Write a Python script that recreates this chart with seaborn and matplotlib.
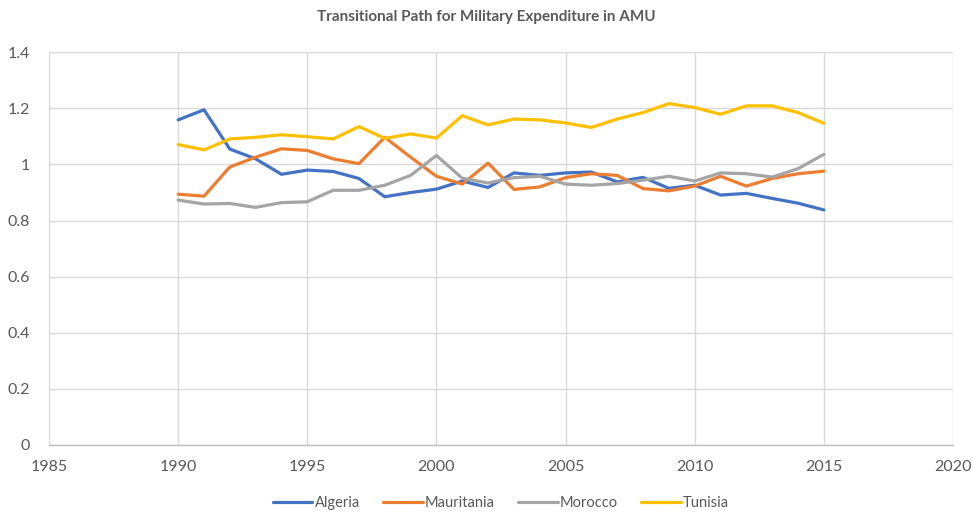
import pandas as pd
import matplotlib.pyplot as plt
import seaborn as sns

# Data (yearly, 1990-2015)
years = list(range(1990, 2016))
algeria = [1.159, 1.195, 1.055, 1.02, 0.965, 0.98, 0.975, 0.95, 0.885, 0.90,
           0.912, 0.941, 0.918, 0.970, 0.961, 0.970, 0.973, 0.938, 0.954, 0.915,
           0.926, 0.891, 0.897, 0.879, 0.862, 0.838]
mauritania = [0.894, 0.887, 0.991, 1.026, 1.056, 1.05, 1.02, 1.003, 1.097, 1.026,
              0.958, 0.93, 1.005, 0.911, 0.92, 0.953, 0.967, 0.961, 0.914, 0.906,
              0.923, 0.958, 0.923, 0.95, 0.967, 0.976]
morocco = [0.873, 0.859, 0.861, 0.847, 0.864, 0.867, 0.908, 0.908, 0.926, 0.961,
           1.032, 0.951, 0.934, 0.953, 0.958, 0.93, 0.926, 0.932, 0.944, 0.958,
           0.941, 0.97, 0.967, 0.955, 0.985, 1.036]
tunisia = [1.071, 1.052, 1.091, 1.097, 1.106, 1.099, 1.091, 1.135, 1.093, 1.109,
           1.094, 1.174, 1.141, 1.162, 1.159, 1.148, 1.132, 1.162, 1.185, 1.217,
           1.203, 1.179, 1.209, 1.209, 1.185, 1.147]

countries = ['Algeria', 'Mauritania', 'Morocco', 'Tunisia']
colors = ['#4472C4', '#ED7D31', '#A5A5A5', '#FFC000']

df = pd.DataFrame({'Year': years, 'Algeria': algeria, 'Mauritania': mauritania,
                   'Morocco': morocco, 'Tunisia': tunisia})
long_df = df.melt(id_vars='Year', var_name='Country', value_name='Value')

sns.set_style('white')
plt.rcParams['font.family'] = ['Lato', 'DejaVu Sans']

fig = plt.figure(figsize=(9.73, 5.13), dpi=100)
ax = fig.add_axes([0.0504, 0.1326, 0.9290, 0.7655])

sns.lineplot(data=long_df, x='Year', y='Value', hue='Country', hue_order=countries,
             palette=colors, linewidth=2.3, ax=ax, legend=True)
for line in ax.get_lines():
    line.set_solid_joinstyle('round')
    line.set_solid_capstyle('round')

ax.set_xlim(1985, 2020)
ax.set_ylim(0, 1.4)
ax.set_xticks(range(1985, 2021, 5))
ax.set_yticks([0, 0.2, 0.4, 0.6, 0.8, 1.0, 1.2, 1.4])
ax.set_yticklabels(['0', '0.2', '0.4', '0.6', '0.8', '1', '1.2', '1.4'])
ax.grid(True, color='#d9d9d9', linewidth=1)
ax.set_axisbelow(True)
for side in ['top', 'right', 'left']:
    ax.spines[side].set_visible(False)
ax.spines['bottom'].set_color('#bfbfbf')
ax.spines['bottom'].set_linewidth(1)
ax.tick_params(axis='both', length=0, labelsize=11.5, colors='#595959')
ax.tick_params(axis='x', pad=11)
ax.tick_params(axis='y', pad=14)
ax.set_xlabel('')
ax.set_ylabel('')

fig.text(0.5, 0.967, 'Transitional Path for Military Expenditure in AMU',
         ha='center', va='center', fontsize=11, fontweight='bold', color='#595959')

handles, labels = ax.get_legend_handles_labels()
ax.legend(handles, labels, loc='center', bbox_to_anchor=(0.5, -0.148), ncol=4,
          frameon=False, fontsize=10.5, labelcolor='#595959', handlelength=2.7,
          handletextpad=0.15, columnspacing=1.6)

fig.savefig('out.png', dpi=100)
